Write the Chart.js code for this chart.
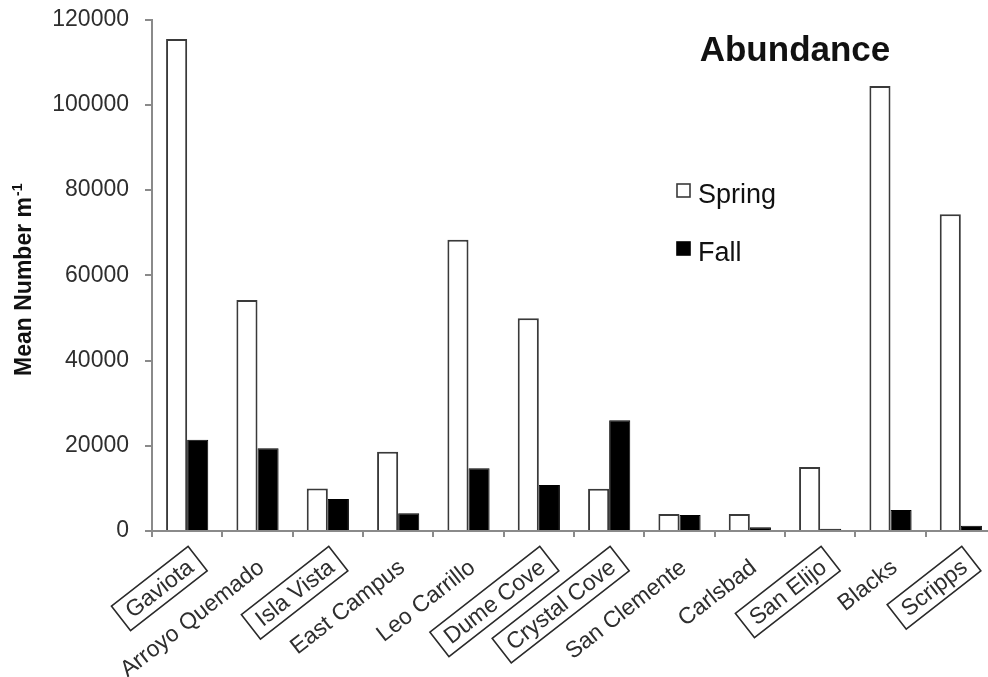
<!DOCTYPE html>
<html>
<head>
<meta charset="utf-8">
<script src="https://cdn.jsdelivr.net/npm/chart.js@4"></script>
<style>
  html, body { margin: 0; padding: 0; background: #fff; overflow: hidden; width: 988px; height: 677px; }
  canvas { display: block; position: absolute; left: 0; top: 0; }
</style>
</head>
<body>
<canvas id="c" width="1000" height="677"></canvas>
<script>
// ---- data ----
const categories = ['Gaviota', 'Arroyo Quemado', 'Isla Vista', 'East Campus', 'Leo Carrillo', 'Dume Cove',
  'Crystal Cove', 'San Clemente', 'Carlsbad', 'San Elijo', 'Blacks', 'Scripps'];
const boxedCategories = ['Gaviota', 'Isla Vista', 'Dume Cove', 'Crystal Cove', 'San Elijo', 'Scripps'];
const springValues = [115400, 54200, 10000, 18600, 68300, 49900, 9900, 4000, 4000, 15000, 104400, 74300];
const fallValues = [21400, 19400, 7500, 4150, 14700, 10800, 26000, 3750, 900, 500, 4900, 1250];
const yTicks = [0, 20000, 40000, 60000, 80000, 100000, 120000];
const chartTitle = 'Abundance';
const yTitle = 'Mean Number m';
const yTitleSup = '-1';
const seriesNames = ['Spring', 'Fall'];

const FONT = '"Liberation Sans", Arial, Helvetica, sans-serif';
const TEXT = '#2e2e2e';
const AXIS = '#8a8a8a';

const decorPlugin = {
  id: 'decor',
  afterDraw(chart) {
    const ctx = chart.ctx;
    const xs = chart.scales.x;
    const ca = chart.chartArea;
    ctx.save();
    // category labels (rotated, some boxed)
    const ang = -38 * Math.PI / 180;
    ctx.font = '23px ' + FONT;
    ctx.fillStyle = TEXT;
    categories.forEach((lab, i) => {
      const cx = xs.getPixelForValue(i);
      ctx.save();
      ctx.translate(cx + 8, xs.top + 39);
      ctx.rotate(ang);
      ctx.textAlign = 'right';
      ctx.textBaseline = 'alphabetic';
      ctx.fillText(lab, 0, 0);
      if (boxedCategories.includes(lab)) {
        const w = ctx.measureText(lab).width;
        ctx.strokeStyle = '#2a2a2a';
        ctx.lineWidth = 1.6;
        ctx.strokeRect(-w - 9, -23, w + 18, 31);
      }
      ctx.restore();
    });

    // y-axis title with superscript
    ctx.save();
    const ty = (ca.top + ca.bottom) / 2 + 5;
    ctx.translate(31, ty);
    ctx.rotate(-Math.PI / 2);
    ctx.font = 'bold 23px ' + FONT;
    const w1 = ctx.measureText(yTitle).width;
    ctx.font = 'bold 14px ' + FONT;
    const w2 = ctx.measureText(yTitleSup).width;
    const start = -(w1 + w2) / 2;
    ctx.fillStyle = '#111';
    ctx.textAlign = 'left';
    ctx.textBaseline = 'alphabetic';
    ctx.font = 'bold 23px ' + FONT;
    ctx.fillText(yTitle, start, 0);
    ctx.font = 'bold 14px ' + FONT;
    ctx.fillText(yTitleSup, start + w1 + 1, -9);
    ctx.restore();

    // chart title
    ctx.font = 'bold 35px ' + FONT;
    ctx.fillStyle = '#111';
    ctx.textAlign = 'center';
    ctx.textBaseline = 'alphabetic';
    ctx.fillText(chartTitle, 795, 61);

    // legend
    const ds = chart.data.datasets;
    const legendRows = [190, 248];
    ds.forEach((d, k) => {
      const y = legendRows[k];
      ctx.fillStyle = d.backgroundColor;
      ctx.fillRect(677, y - 6, 13, 13);
      ctx.strokeStyle = d.borderColor;
      ctx.lineWidth = 1.6;
      ctx.strokeRect(677, y - 6, 13, 13);
      ctx.fillStyle = '#111';
      ctx.font = '27px ' + FONT;
      ctx.textAlign = 'left';
      ctx.textBaseline = 'alphabetic';
      ctx.fillText(d.label, 698, y + 13);
    });
    ctx.restore();
  }
};

new Chart(document.getElementById('c'), {
  type: 'bar',
  data: {
    labels: categories,
    datasets: [
      { label: seriesNames[0], data: springValues, backgroundColor: '#ffffff', borderColor: '#3a3a3a', borderWidth: 2 },
      { label: seriesNames[1], data: fallValues, backgroundColor: '#000000', borderColor: '#000000', borderWidth: 1 }
    ]
  },
  options: {
    responsive: false,
    animation: false,
    devicePixelRatio: 1,
    layout: { padding: { top: 19.5, right: 4, left: 0, bottom: 0 } },
    datasets: { bar: { categoryPercentage: 0.6, barPercentage: 1.0 } },
    plugins: { legend: { display: false }, title: { display: false }, tooltip: { enabled: false } },
    scales: {
      x: {
        offset: true,
        grid: { display: true, offset: true, drawOnChartArea: false, drawTicks: true, tickLength: 6, color: AXIS, lineWidth: 2 },
        border: { display: true, color: AXIS, width: 2 },
        ticks: { display: false },
        afterFit(s) { s.height = 146; s.paddingLeft = 0; s.paddingRight = 0; }
      },
      y: {
        min: 0, max: 120000,
        afterBuildTicks(s) { s.ticks = yTicks.map(v => ({ value: v })); },
        grid: { display: true, drawOnChartArea: false, drawTicks: true, tickLength: 7, color: AXIS, lineWidth: 2 },
        border: { display: true, color: AXIS, width: 2 },
        ticks: { color: TEXT, font: { family: FONT, size: 23 }, padding: 16, callback: v => String(v) },
        afterFit(s) { s.width = 152; s.paddingTop = 0; s.paddingBottom = 0; }
      }
    }
  },
  plugins: [decorPlugin]
});
</script>
</body>
</html>
